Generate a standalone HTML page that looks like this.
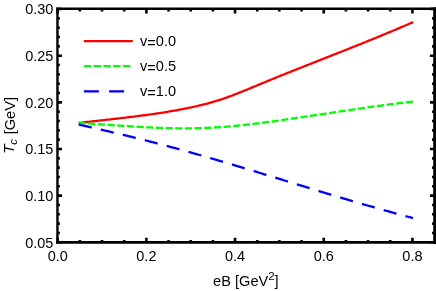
<!DOCTYPE html>
<html><head><meta charset="utf-8"><style>html,body{margin:0;padding:0;background:#fff}body{width:436px;height:291px;overflow:hidden;font-family:"Liberation Sans",sans-serif}</style></head><body>
<svg width="436" height="291" viewBox="0 0 436 291" style="display:block">
<rect width="436" height="291" fill="#fff"/>
<path d="M78.60,123.00 L80.28,122.80 L81.96,122.60 L83.64,122.40 L85.33,122.21 L87.01,122.01 L88.69,121.82 L90.37,121.62 L92.05,121.43 L93.73,121.24 L95.41,121.05 L97.10,120.86 L98.78,120.67 L100.46,120.48 L102.14,120.29 L103.82,120.10 L105.50,119.91 L107.18,119.72 L108.87,119.53 L110.55,119.34 L112.23,119.15 L113.91,118.96 L115.59,118.76 L117.27,118.57 L118.95,118.38 L120.64,118.18 L122.32,117.98 L124.00,117.79 L125.68,117.59 L127.36,117.39 L129.04,117.18 L130.72,116.98 L132.41,116.77 L134.09,116.56 L135.77,116.35 L137.45,116.14 L139.13,115.92 L140.81,115.70 L142.49,115.48 L144.17,115.26 L145.86,115.03 L147.54,114.80 L149.22,114.57 L150.90,114.33 L152.58,114.10 L154.26,113.85 L155.94,113.61 L157.63,113.35 L159.31,113.10 L160.99,112.84 L162.67,112.58 L164.35,112.31 L166.03,112.04 L167.71,111.77 L169.40,111.49 L171.08,111.20 L172.76,110.91 L174.44,110.62 L176.12,110.32 L177.80,110.01 L179.48,109.70 L181.17,109.39 L182.85,109.07 L184.53,108.74 L186.21,108.41 L187.89,108.07 L189.57,107.72 L191.25,107.37 L192.94,107.00 L194.62,106.63 L196.30,106.25 L197.98,105.87 L199.66,105.47 L201.34,105.06 L203.02,104.65 L204.71,104.22 L206.39,103.78 L208.07,103.33 L209.75,102.87 L211.43,102.40 L213.11,101.91 L214.79,101.42 L216.48,100.90 L218.16,100.38 L219.84,99.84 L221.52,99.29 L223.20,98.72 L224.88,98.14 L226.56,97.55 L228.25,96.95 L229.93,96.33 L231.61,95.71 L233.29,95.07 L234.97,94.43 L236.65,93.77 L238.33,93.11 L240.02,92.44 L241.70,91.77 L243.38,91.09 L245.06,90.40 L246.74,89.71 L248.42,89.02 L250.10,88.32 L251.78,87.63 L253.47,86.93 L255.15,86.23 L256.83,85.53 L258.51,84.83 L260.19,84.13 L261.87,83.43 L263.55,82.73 L265.24,82.04 L266.92,81.35 L268.60,80.66 L270.28,79.97 L271.96,79.28 L273.64,78.60 L275.32,77.92 L277.01,77.23 L278.69,76.55 L280.37,75.87 L282.05,75.19 L283.73,74.52 L285.41,73.84 L287.09,73.17 L288.78,72.49 L290.46,71.82 L292.14,71.15 L293.82,70.48 L295.50,69.81 L297.18,69.14 L298.86,68.47 L300.55,67.80 L302.23,67.13 L303.91,66.47 L305.59,65.80 L307.27,65.14 L308.95,64.47 L310.63,63.81 L312.32,63.14 L314.00,62.48 L315.68,61.82 L317.36,61.15 L319.04,60.49 L320.72,59.83 L322.40,59.16 L324.09,58.50 L325.77,57.84 L327.45,57.18 L329.13,56.51 L330.81,55.85 L332.49,55.19 L334.17,54.52 L335.86,53.86 L337.54,53.19 L339.22,52.53 L340.90,51.86 L342.58,51.20 L344.26,50.53 L345.94,49.87 L347.63,49.20 L349.31,48.53 L350.99,47.86 L352.67,47.19 L354.35,46.52 L356.03,45.85 L357.71,45.17 L359.39,44.50 L361.08,43.83 L362.76,43.15 L364.44,42.47 L366.12,41.79 L367.80,41.12 L369.48,40.43 L371.16,39.75 L372.85,39.07 L374.53,38.38 L376.21,37.70 L377.89,37.01 L379.57,36.32 L381.25,35.63 L382.93,34.93 L384.62,34.24 L386.30,33.54 L387.98,32.84 L389.66,32.14 L391.34,31.44 L393.02,30.73 L394.70,30.03 L396.39,29.32 L398.07,28.61 L399.75,27.89 L401.43,27.18 L403.11,26.46 L404.79,25.74 L406.47,25.02 L408.16,24.29 L409.84,23.56 L411.52,22.83 L413.20,22.10" fill="none" stroke="#f00" stroke-width="2.3"/>
<path d="M78.60,122.90 L80.28,123.00 L81.96,123.10 L83.64,123.21 L85.32,123.31 L87.00,123.42 L88.68,123.53 L90.36,123.64 L92.04,123.75 L93.72,123.87 L95.40,123.98 L97.08,124.09 L98.76,124.21 L100.45,124.32 L102.13,124.44 L103.81,124.55 L105.49,124.67 L107.17,124.78 L108.85,124.90 L110.53,125.01 L112.21,125.13 L113.89,125.24 L115.57,125.36 L117.25,125.47 L118.93,125.58 L120.61,125.69 L122.29,125.81 L123.97,125.92 L125.65,126.02 L127.33,126.13 L129.01,126.24 L130.69,126.34 L132.37,126.45 L134.05,126.55 L135.73,126.65 L137.41,126.75 L139.09,126.84 L140.77,126.94 L142.46,127.03 L144.14,127.12 L145.82,127.21 L147.50,127.29 L149.18,127.38 L150.86,127.46 L152.54,127.53 L154.22,127.61 L155.90,127.68 L157.58,127.75 L159.26,127.81 L160.94,127.87 L162.62,127.93 L164.30,127.99 L165.98,128.04 L167.66,128.09 L169.34,128.13 L171.02,128.17 L172.70,128.21 L174.38,128.24 L176.06,128.27 L177.74,128.29 L179.42,128.31 L181.10,128.32 L182.78,128.33 L184.47,128.34 L186.15,128.34 L187.83,128.33 L189.51,128.32 L191.19,128.31 L192.87,128.29 L194.55,128.26 L196.23,128.23 L197.91,128.19 L199.59,128.15 L201.27,128.10 L202.95,128.05 L204.63,127.99 L206.31,127.92 L207.99,127.85 L209.67,127.77 L211.35,127.69 L213.03,127.60 L214.71,127.50 L216.39,127.40 L218.07,127.29 L219.75,127.18 L221.43,127.06 L223.11,126.93 L224.79,126.80 L226.48,126.67 L228.16,126.53 L229.84,126.39 L231.52,126.24 L233.20,126.08 L234.88,125.93 L236.56,125.76 L238.24,125.60 L239.92,125.42 L241.60,125.25 L243.28,125.07 L244.96,124.89 L246.64,124.70 L248.32,124.51 L250.00,124.31 L251.68,124.12 L253.36,123.91 L255.04,123.71 L256.72,123.50 L258.40,123.29 L260.08,123.08 L261.76,122.86 L263.44,122.64 L265.12,122.42 L266.81,122.19 L268.49,121.97 L270.17,121.74 L271.85,121.51 L273.53,121.27 L275.21,121.04 L276.89,120.80 L278.57,120.56 L280.25,120.32 L281.93,120.08 L283.61,119.84 L285.29,119.59 L286.97,119.34 L288.65,119.10 L290.33,118.85 L292.01,118.60 L293.69,118.35 L295.37,118.10 L297.05,117.85 L298.73,117.59 L300.41,117.34 L302.09,117.09 L303.77,116.84 L305.45,116.58 L307.13,116.33 L308.82,116.08 L310.50,115.82 L312.18,115.57 L313.86,115.32 L315.54,115.06 L317.22,114.81 L318.90,114.56 L320.58,114.30 L322.26,114.05 L323.94,113.80 L325.62,113.54 L327.30,113.29 L328.98,113.04 L330.66,112.79 L332.34,112.53 L334.02,112.28 L335.70,112.03 L337.38,111.78 L339.06,111.53 L340.74,111.28 L342.42,111.04 L344.10,110.79 L345.78,110.54 L347.46,110.29 L349.14,110.05 L350.83,109.80 L352.51,109.56 L354.19,109.32 L355.87,109.07 L357.55,108.83 L359.23,108.59 L360.91,108.35 L362.59,108.11 L364.27,107.87 L365.95,107.64 L367.63,107.40 L369.31,107.17 L370.99,106.93 L372.67,106.70 L374.35,106.47 L376.03,106.24 L377.71,106.01 L379.39,105.79 L381.07,105.56 L382.75,105.34 L384.43,105.12 L386.11,104.90 L387.79,104.68 L389.47,104.46 L391.15,104.24 L392.84,104.03 L394.52,103.82 L396.20,103.61 L397.88,103.40 L399.56,103.19 L401.24,102.98 L402.92,102.78 L404.60,102.58 L406.28,102.38 L407.96,102.18 L409.64,101.99 L411.32,101.79 L413.00,101.60" fill="none" stroke="#0f0" stroke-width="2.3" stroke-dasharray="7.2 2.478"/>
<path d="M78.70,124.61 L80.38,124.98 L82.06,125.35 L83.74,125.72 L85.42,126.10 L87.10,126.47 L88.78,126.85 L90.46,127.23 L92.14,127.61 L93.82,127.99 L95.50,128.37 L97.18,128.76 L98.86,129.14 L100.54,129.53 L102.22,129.92 L103.90,130.30 L105.58,130.70 L107.26,131.09 L108.94,131.48 L110.62,131.87 L112.30,132.27 L113.98,132.67 L115.66,133.06 L117.34,133.46 L119.02,133.87 L120.70,134.27 L122.38,134.67 L124.06,135.08 L125.74,135.48 L127.42,135.89 L129.10,136.30 L130.78,136.71 L132.46,137.13 L134.14,137.54 L135.82,137.96 L137.50,138.38 L139.18,138.79 L140.86,139.22 L142.54,139.64 L144.22,140.06 L145.90,140.49 L147.58,140.91 L149.26,141.34 L150.94,141.77 L152.62,142.20 L154.30,142.64 L155.98,143.07 L157.66,143.51 L159.34,143.95 L161.02,144.39 L162.69,144.83 L164.37,145.27 L166.05,145.72 L167.73,146.17 L169.41,146.61 L171.09,147.06 L172.77,147.52 L174.45,147.97 L176.13,148.43 L177.81,148.88 L179.49,149.34 L181.17,149.81 L182.85,150.27 L184.53,150.73 L186.21,151.20 L187.89,151.67 L189.57,152.14 L191.25,152.61 L192.93,153.08 L194.61,153.56 L196.29,154.03 L197.97,154.51 L199.65,154.99 L201.33,155.47 L203.01,155.95 L204.69,156.44 L206.37,156.92 L208.05,157.41 L209.73,157.90 L211.41,158.39 L213.09,158.88 L214.77,159.37 L216.45,159.86 L218.13,160.35 L219.81,160.85 L221.49,161.35 L223.17,161.84 L224.85,162.34 L226.53,162.84 L228.21,163.34 L229.89,163.84 L231.57,164.34 L233.25,164.85 L234.93,165.35 L236.61,165.86 L238.29,166.36 L239.97,166.87 L241.65,167.38 L243.33,167.89 L245.01,168.39 L246.69,168.90 L248.37,169.41 L250.05,169.93 L251.73,170.44 L253.41,170.95 L255.09,171.46 L256.77,171.97 L258.45,172.49 L260.13,173.00 L261.81,173.52 L263.49,174.03 L265.17,174.55 L266.85,175.06 L268.53,175.58 L270.21,176.10 L271.89,176.61 L273.57,177.13 L275.25,177.65 L276.93,178.16 L278.61,178.68 L280.29,179.20 L281.97,179.71 L283.65,180.23 L285.33,180.75 L287.01,181.27 L288.69,181.78 L290.37,182.30 L292.05,182.82 L293.73,183.34 L295.41,183.85 L297.09,184.37 L298.77,184.89 L300.45,185.40 L302.13,185.92 L303.81,186.43 L305.49,186.95 L307.17,187.46 L308.85,187.98 L310.53,188.49 L312.21,189.01 L313.89,189.52 L315.57,190.03 L317.25,190.54 L318.93,191.05 L320.61,191.57 L322.29,192.08 L323.97,192.59 L325.65,193.09 L327.33,193.60 L329.01,194.11 L330.68,194.62 L332.36,195.12 L334.04,195.63 L335.72,196.13 L337.40,196.63 L339.08,197.13 L340.76,197.64 L342.44,198.14 L344.12,198.63 L345.80,199.13 L347.48,199.63 L349.16,200.13 L350.84,200.62 L352.52,201.11 L354.20,201.61 L355.88,202.10 L357.56,202.59 L359.24,203.08 L360.92,203.57 L362.60,204.05 L364.28,204.54 L365.96,205.02 L367.64,205.51 L369.32,205.99 L371.00,206.47 L372.68,206.95 L374.36,207.43 L376.04,207.91 L377.72,208.39 L379.40,208.86 L381.08,209.34 L382.76,209.81 L384.44,210.28 L386.12,210.75 L387.80,211.22 L389.48,211.69 L391.16,212.15 L392.84,212.62 L394.52,213.08 L396.20,213.55 L397.88,214.01 L399.56,214.47 L401.24,214.92 L402.92,215.38 L404.60,215.84 L406.28,216.29 L407.96,216.74 L409.64,217.20 L411.32,217.65 L413.00,218.09" fill="none" stroke="#00f" stroke-width="2.3" stroke-dasharray="13.3 9.33"/>
<path d="M83.9,41.2 H132.8" stroke="#f00" stroke-width="2.25"/>
<path d="M83.9,66.2 H130.5" stroke="#0f0" stroke-width="2.25" stroke-dasharray="7.4 2.34"/>
<path d="M83.9,91.4 H132.8" stroke="#00f" stroke-width="2.25" stroke-dasharray="15 10.2"/>
<path d="M57.45,8.75 V242.3" stroke="#000" stroke-width="2.4" stroke-linecap="square"/>
<path d="M57.45,8.75 H434.45" stroke="#000" stroke-width="2.3" stroke-linecap="square"/>
<path d="M57.45,242.4 H435.05" stroke="#000" stroke-width="2.8" stroke-linecap="square"/>
<path d="M434.7,8.75 V242.60000000000002" stroke="#000" stroke-width="3.0" stroke-linecap="square"/>
<path d="M57.70,242.3 v-4.5 M57.70,8.75 v4.85 M79.87,242.3 v-2.4 M79.87,8.75 v2.75 M102.04,242.3 v-2.4 M102.04,8.75 v2.75 M124.21,242.3 v-2.4 M124.21,8.75 v2.75 M146.38,242.3 v-4.5 M146.38,8.75 v4.85 M168.55,242.3 v-2.4 M168.55,8.75 v2.75 M190.72,242.3 v-2.4 M190.72,8.75 v2.75 M212.89,242.3 v-2.4 M212.89,8.75 v2.75 M235.06,242.3 v-4.5 M235.06,8.75 v4.85 M257.23,242.3 v-2.4 M257.23,8.75 v2.75 M279.40,242.3 v-2.4 M279.40,8.75 v2.75 M301.57,242.3 v-2.4 M301.57,8.75 v2.75 M323.74,242.3 v-4.5 M323.74,8.75 v4.85 M345.91,242.3 v-2.4 M345.91,8.75 v2.75 M368.08,242.3 v-2.4 M368.08,8.75 v2.75 M390.25,242.3 v-2.4 M390.25,8.75 v2.75 M412.42,242.3 v-4.5 M412.42,8.75 v4.85 M57.45,242.30 h4.5 M434.45,242.30 h-4.5 M57.45,232.97 h2.4 M434.45,232.97 h-2.4 M57.45,223.64 h2.4 M434.45,223.64 h-2.4 M57.45,214.31 h2.4 M434.45,214.31 h-2.4 M57.45,204.98 h2.4 M434.45,204.98 h-2.4 M57.45,195.65 h4.5 M434.45,195.65 h-4.5 M57.45,186.32 h2.4 M434.45,186.32 h-2.4 M57.45,176.99 h2.4 M434.45,176.99 h-2.4 M57.45,167.66 h2.4 M434.45,167.66 h-2.4 M57.45,158.33 h2.4 M434.45,158.33 h-2.4 M57.45,149.00 h4.5 M434.45,149.00 h-4.5 M57.45,139.67 h2.4 M434.45,139.67 h-2.4 M57.45,130.34 h2.4 M434.45,130.34 h-2.4 M57.45,121.01 h2.4 M434.45,121.01 h-2.4 M57.45,111.68 h2.4 M434.45,111.68 h-2.4 M57.45,102.35 h4.5 M434.45,102.35 h-4.5 M57.45,93.02 h2.4 M434.45,93.02 h-2.4 M57.45,83.69 h2.4 M434.45,83.69 h-2.4 M57.45,74.36 h2.4 M434.45,74.36 h-2.4 M57.45,65.03 h2.4 M434.45,65.03 h-2.4 M57.45,55.70 h4.5 M434.45,55.70 h-4.5 M57.45,46.37 h2.4 M434.45,46.37 h-2.4 M57.45,37.04 h2.4 M434.45,37.04 h-2.4 M57.45,27.71 h2.4 M434.45,27.71 h-2.4 M57.45,18.38 h2.4 M434.45,18.38 h-2.4 M57.45,9.05 h4.5 M434.45,9.05 h-4.5" stroke="#000" stroke-width="2.6" fill="none"/>
<g font-family="Liberation Sans, sans-serif" fill="#000" style="filter:grayscale(1)">
<text transform="translate(53.40,247.60) scale(1,1.05)" font-size="14.5px" text-anchor="end">0.05</text>
<text transform="translate(53.40,200.95) scale(1,1.05)" font-size="14.5px" text-anchor="end">0.10</text>
<text transform="translate(53.40,154.30) scale(1,1.05)" font-size="14.5px" text-anchor="end">0.15</text>
<text transform="translate(53.40,107.65) scale(1,1.05)" font-size="14.5px" text-anchor="end">0.20</text>
<text transform="translate(53.40,61.00) scale(1,1.05)" font-size="14.5px" text-anchor="end">0.25</text>
<text transform="translate(53.40,14.35) scale(1,1.05)" font-size="14.5px" text-anchor="end">0.30</text>
<text transform="translate(57.70,260.85) scale(1,1.05)" font-size="14.5px" text-anchor="middle">0.0</text>
<text transform="translate(146.38,260.85) scale(1,1.05)" font-size="14.5px" text-anchor="middle">0.2</text>
<text transform="translate(235.06,260.85) scale(1,1.05)" font-size="14.5px" text-anchor="middle">0.4</text>
<text transform="translate(323.74,260.85) scale(1,1.05)" font-size="14.5px" text-anchor="middle">0.6</text>
<text transform="translate(412.42,260.85) scale(1,1.05)" font-size="14.5px" text-anchor="middle">0.8</text>
<text transform="translate(140.00,45.90) scale(1,1.04)" font-size="14.6px" text-anchor="start">v<tspan dy="1.7">=</tspan><tspan dy="-1.7">0.0</tspan></text>
<text transform="translate(140.00,71.10) scale(1,1.04)" font-size="14.6px" text-anchor="start">v<tspan dy="1.7">=</tspan><tspan dy="-1.7">0.5</tspan></text>
<text transform="translate(140.00,96.30) scale(1,1.04)" font-size="14.6px" text-anchor="start">v<tspan dy="1.7">=</tspan><tspan dy="-1.7">1.0</tspan></text>
<text transform="translate(213.10,286.40) scale(1,1.03)" font-size="14.6px" text-anchor="start">eB [GeV<tspan font-size="11.4px" dy="-5.9">2</tspan><tspan dy="5.9">]</tspan></text>
<text transform="translate(14.70,153.70) rotate(-90) scale(1,1.0)" font-size="14.6px" text-anchor="start"><tspan font-style="italic" font-size="15.3px" dy="-0.6">T</tspan><tspan font-size="11.5px" font-style="italic" dy="2.9" dx="-0.4">c</tspan><tspan dy="-2.3" dx="0.6"> [GeV]</tspan></text>
</g>
</svg>
</body></html>
